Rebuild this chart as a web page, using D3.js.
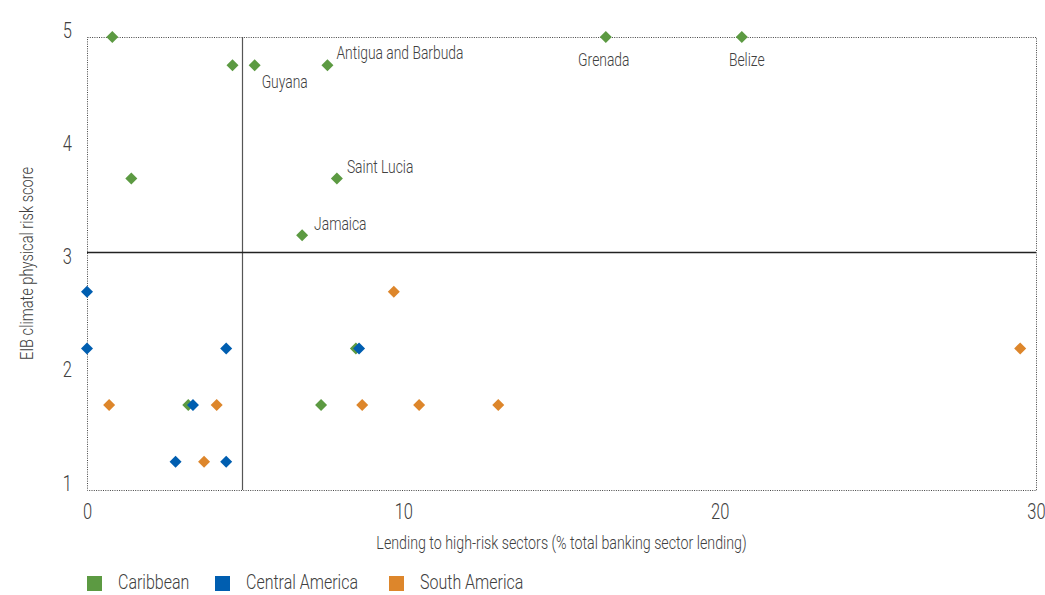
<!DOCTYPE html>
<html>
<head>
<meta charset="utf-8">
<script src="https://cdn.jsdelivr.net/npm/d3@7"></script>
<style>
  html, body { margin: 0; padding: 0; background: #fff; }
  svg { display: block; }
  text { font-family: Roboto, "Liberation Sans", sans-serif; font-weight: 300; }
</style>
</head>
<body>
<svg id="chart" width="1045" height="595"></svg>
<script>
// ---- data ----
const seriesNames = ["Caribbean", "Central America", "South America"];
const seriesColors = ["#5c9a42", "#005eb0", "#dd862b"];

const caribbeanX = [0.8, 4.6, 5.3, 7.6, 1.4, 7.9, 6.8, 16.4, 20.7, 8.5, 3.2, 7.4];
const caribbeanY = [5, 4.75, 4.75, 4.75, 3.75, 3.75, 3.25, 5, 5, 2.25, 1.75, 1.75];
const caribbeanLabels = ["", "", "Guyana", "Antigua and Barbuda", "", "Saint Lucia", "Jamaica", "Grenada", "Belize", "", "", ""];

const centralX = [0, 0, 4.4, 8.6, 3.35, 2.8, 4.4];
const centralY = [2.75, 2.25, 2.25, 2.25, 1.75, 1.25, 1.25];

const southX = [0.7, 4.1, 3.7, 9.7, 8.7, 10.5, 13.0, 29.5];
const southY = [1.75, 1.75, 1.25, 2.75, 1.75, 1.75, 1.75, 2.25];

const xTicks = [0, 10, 20, 30];
const yTicks = [1, 2, 3, 4, 5];
const xThreshold = 4.9;
const yThreshold = 3.1;

const xTitle = "Lending to high-risk sectors (% total banking sector lending)";
const yTitle = "EIB climate physical risk score";

// ---- layout (styling, not data) ----
const W = 1045, H = 595;
const margin = { top: 37, right: 9, bottom: 105, left: 87 };
const textColor = "#404040";
const K = 0.77; // horizontal condensing of text
const labelPlacement = {
  "Guyana": { dx: 7, dy: 23, anchor: "start" },
  "Antigua and Barbuda": { dx: 9, dy: -6, anchor: "start" },
  "Grenada": { dx: -2, dy: 29, anchor: "middle" },
  "Belize": { dx: 5, dy: 29, anchor: "middle" },
  "Saint Lucia": { dx: 10, dy: -6, anchor: "start" },
  "Jamaica": { dx: 12, dy: -5, anchor: "start" }
};

// horizontally condense text (reference uses a condensed face)
function condense(sel, k) {
  sel.each(function () {
    const t = d3.select(this);
    const x0 = +t.attr("x") || 0;
    t.attr("x", x0 / k).attr("transform", `scale(${k},1)`);
  });
}

const svg = d3.select("#chart");
const x = d3.scaleLinear().domain([0, 30]).range([margin.left, W - margin.right]);
const y = d3.scaleLinear().domain([1, 5]).range([H - margin.bottom, margin.top]);

// plot border (dotted)
svg.append("rect")
  .attr("x", x(0) + 0.5).attr("y", y(5) + 0.5)
  .attr("width", x(30) - x(0)).attr("height", y(1) - y(5))
  .attr("fill", "none").attr("stroke", "#444").attr("stroke-width", 1)
  .attr("stroke-dasharray", "1,1.3");

// threshold lines
svg.append("line")
  .attr("x1", Math.round(x(xThreshold)) + 0.5).attr("x2", Math.round(x(xThreshold)) + 0.5)
  .attr("y1", y(5)).attr("y2", y(1))
  .attr("stroke", "#555").attr("stroke-width", 1.2);
svg.append("line")
  .attr("x1", x(0)).attr("x2", x(30))
  .attr("y1", Math.round(y(yThreshold)) + 0.5).attr("y2", Math.round(y(yThreshold)) + 0.5)
  .attr("stroke", "#222").attr("stroke-width", 1.3);

// axes
const xAxis = svg.append("g")
  .attr("transform", `translate(0,${y(1)})`)
  .call(d3.axisBottom(x).tickValues(xTicks).tickSize(0).tickPadding(13).tickFormat(d3.format("d")));
xAxis.select(".domain").remove();
xAxis.selectAll("text").attr("font-size", 22).attr("fill", textColor)
  .attr("font-family", null).call(condense, 0.75);

const yAxis = svg.append("g")
  .attr("transform", `translate(${x(0)},0)`)
  .call(d3.axisLeft(y).tickValues(yTicks).tickSize(0).tickPadding(15).tickFormat(d3.format("d")));
yAxis.select(".domain").remove();
yAxis.selectAll("text").attr("font-size", 22).attr("fill", textColor).attr("dy", "0em")
  .attr("font-family", null).call(condense, 0.75);

// axis titles
svg.append("text")
  .attr("x", (x(0) + x(30)) / 2).attr("y", 549)
  .attr("text-anchor", "middle").attr("font-size", 18.5).attr("fill", textColor)
  .text(xTitle).call(condense, K);
svg.append("text")
  .attr("transform", `translate(33,${(y(1) + y(5)) / 2}) rotate(-90) scale(${K},1)`)
  .attr("text-anchor", "middle").attr("font-size", 19).attr("fill", textColor)
  .text(yTitle);

// points
const symbol = d3.symbol().type(d3.symbolSquare).size(72);
const groups = [
  { name: seriesNames[0], color: seriesColors[0], pts: caribbeanX.map((v, i) => ({ x: v, y: caribbeanY[i], label: caribbeanLabels[i] })) },
  { name: seriesNames[1], color: seriesColors[1], pts: centralX.map((v, i) => ({ x: v, y: centralY[i], label: "" })) },
  { name: seriesNames[2], color: seriesColors[2], pts: southX.map((v, i) => ({ x: v, y: southY[i], label: "" })) }
];

groups.forEach(g => {
  svg.append("g").selectAll("path")
    .data(g.pts).join("path")
    .attr("d", symbol)
    .attr("transform", d => `translate(${x(d.x)},${y(d.y)}) rotate(45)`)
    .attr("fill", g.color);
});

// labels
svg.append("g").selectAll("text")
  .data(groups[0].pts.filter(d => d.label))
  .join("text")
  .attr("x", d => x(d.x) + labelPlacement[d.label].dx)
  .attr("y", d => y(d.y) + labelPlacement[d.label].dy)
  .attr("text-anchor", d => labelPlacement[d.label].anchor)
  .attr("font-size", 18).attr("fill", textColor)
  .text(d => d.label)
  .call(condense, K);

// legend
const legendX = [87, 215, 389];
const leg = svg.append("g");
seriesNames.forEach((n, i) => {
  leg.append("rect").attr("x", legendX[i]).attr("y", 576).attr("width", 15).attr("height", 15)
    .attr("fill", seriesColors[i]);
  leg.append("text").attr("x", legendX[i] + 31).attr("y", 589)
    .attr("font-size", 20).attr("fill", textColor).text(n)
    .call(condense, 0.8);
});
</script>
</body>
</html>
